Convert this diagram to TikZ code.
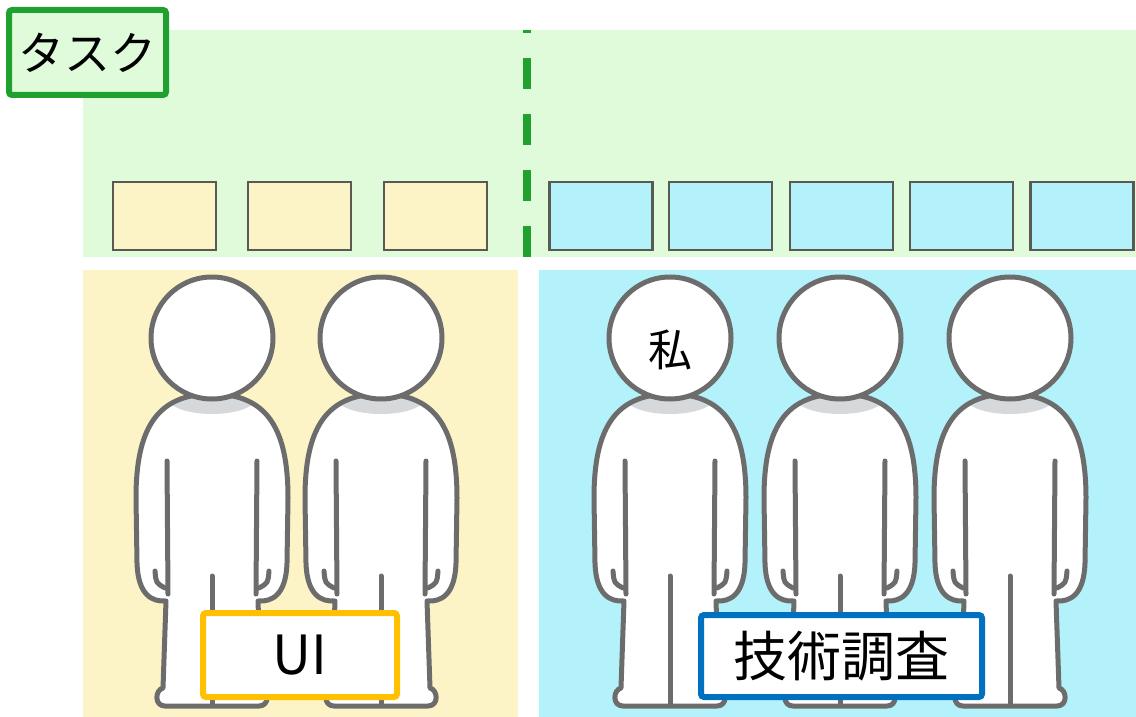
\documentclass[tikz,border=0pt]{standalone}
\usepackage{fontspec}
\newfontfamily\jp{Noto Sans CJK JP}

\definecolor{bandgreen}{RGB}{224,251,218}
\definecolor{taskgreen}{RGB}{31,160,47}
\definecolor{uiyellow}{RGB}{252,244,198}
\definecolor{techcyan}{RGB}{179,242,251}
\definecolor{uiorange}{RGB}{255,192,0}
\definecolor{techblue}{RGB}{0,112,192}
\definecolor{figline}{RGB}{108,108,108}
\definecolor{neck}{RGB}{214,217,220}
\definecolor{cardedge}{RGB}{90,90,85}

% outline of one standing figure, head centre at the origin
\newcommand{\bodyline}{(0,56) .. controls (56,56) and (76,92) .. (76,160) -- (75,225) .. controls (74,257) and (60,264) .. (46,263) -- (49,350) .. controls (57,352) and (58,368) .. (47,368) -- (-47,368) .. controls (-58,368) and (-57,352) .. (-49,350) -- (-46,263) .. controls (-60,264) and (-74,257) .. (-75,225) -- (-76,160) .. controls (-76,92) and (-56,56) .. (0,56) -- cycle}

\newcommand{\person}[3]{%
  \begin{scope}[shift={(#1,#2)}]
    \fill[white] \bodyline;
    \begin{scope}
      \clip \bodyline;
      \fill[neck] (0,60) ellipse [x radius=44, y radius=16];
    \end{scope}
    \draw[figure] \bodyline;
    \draw[figure] (-45,123) -- (-44,256) (45,123) -- (44,256);
    \draw[figure] (-57,233) .. controls (-56,245) .. (-47,250) (57,233) .. controls (56,245) .. (47,250);
    \draw[figure] (0,238) -- (0,366);
    \draw[figure, fill=white] (0,0) circle [radius=61];
    \node[font=\jp\fontsize{42}{46}\selectfont, inner sep=0] (#3) at (0,12) {};
  \end{scope}}

\begin{document}
\begin{tikzpicture}[x=1pt, y=-1pt,
    figure/.style={figline, line width=5pt, line cap=round, line join=round},
    card/.style={draw=cardedge, line width=2.5pt, minimum width=103, minimum height=68, inner sep=0},
    tag/.style={draw, line width=6pt, rounded corners=3pt, fill=white, inner sep=0, font=\jp\fontsize{54}{60}\selectfont}]
    \useasboundingbox (0,0) rectangle (1136,717);
    \fill[bandgreen] (83,30) rectangle (1136,257);
    \fill[uiyellow] (83,270) rectangle (518,717);
    \fill[techcyan] (539,270) rectangle (1136,717);
    \foreach \x [count=\i] in {164.5,299.5,435.5}
        \node[card, fill=uiyellow] (Y\i) at (\x,216) {};
    \foreach \x [count=\i] in {601,720.5,841.5,961.5,1082}
        \node[card, fill=techcyan] (C\i) at (\x,216) {};
    \draw[taskgreen, line width=8pt, dash pattern=on 31pt off 25pt] (527,257) -- (527,30);
    \person{212}{338}{P1}
    \person{381}{338}{P2}
    \person{670}{338}{Me}
    \person{840}{338}{P4}
    \person{1010}{338}{P5}
    \node[font=\jp\fontsize{44}{48}\selectfont] at (Me) {私};
    \node[tag, draw=taskgreen, fill=bandgreen, minimum width=157, minimum height=85, font=\jp\fontsize{46}{50}\selectfont] (Task) at (87.5,52.5) {タスク};
    \node[tag, draw=uiorange, minimum width=194, minimum height=84] (UI) at (300,655) {UI};
    \node[tag, draw=techblue, minimum width=281, minimum height=82] (Tech) at (841.5,656) {技術調査};
\end{tikzpicture}
\end{document}
